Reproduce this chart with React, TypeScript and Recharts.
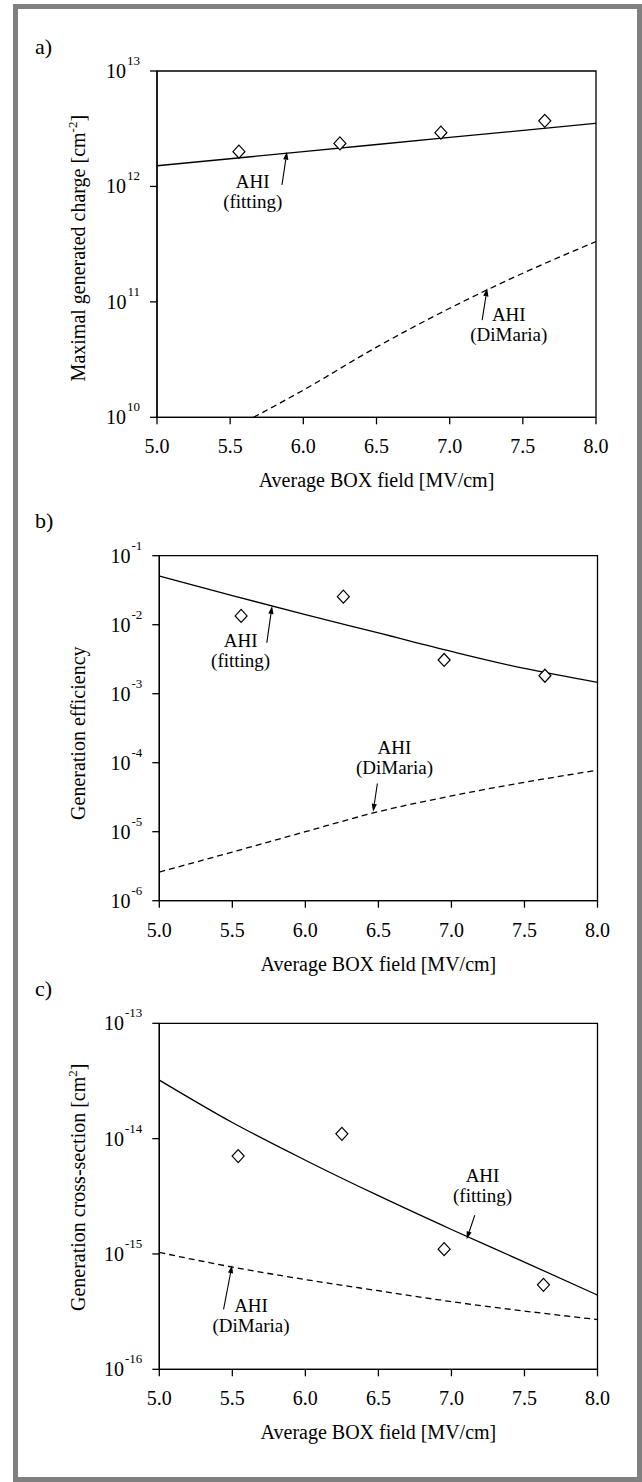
import React from 'react';
import {
  ComposedChart,
  Line,
  Scatter,
  XAxis,
  YAxis,
  ReferenceArea,
  ReferenceDot,
  ReferenceLine,
} from 'recharts';

const SERIF = '"Liberation Serif", "Times New Roman", serif';

// shared x axis (Average BOX field, MV/cm)
const FIELD_TICKS = [5.0, 5.5, 6.0, 6.5, 7.0, 7.5, 8.0];
const FIELD_GRID = [5.0, 5.5, 6.0, 6.5, 7.0, 7.5, 8.0];

// a) maximal generated charge [cm^-2]
const chargeField = [5.56, 6.25, 6.94, 7.65];
const chargeMeasured = [2.0e12, 2.36e12, 2.92e12, 3.7e12];
const chargeFitField = [5.0, 6.0, 7.0, 8.0];
const chargeFit = [1.51e12, 2.0e12, 2.66e12, 3.52e12];
const chargeDiMariaField = [5.66, 6.0, 6.5, 7.0, 7.5, 8.0];
const chargeDiMaria = [1.0e10, 1.72e10, 4.05e10, 8.8e10, 1.77e11, 3.33e11];
const chargeTicks = [1e10, 1e11, 1e12, 1e13];

// b) generation efficiency
const effField = [5.56, 6.26, 6.95, 7.64];
const effMeasured = [1.34e-2, 2.55e-2, 3.08e-3, 1.82e-3];
const effFit = [5.08e-2, 2.64e-2, 1.4e-2, 7.6e-3, 4.1e-3, 2.32e-3, 1.46e-3];
const effDiMaria = [2.6e-6, 5.07e-6, 1.0e-5, 1.95e-5, 3.3e-5, 5.2e-5, 7.8e-5];
const effTicks = [1e-6, 1e-5, 1e-4, 1e-3, 1e-2, 1e-1];

// c) generation cross-section [cm^2]
const crossField = [5.54, 6.25, 6.95, 7.63];
const crossMeasured = [7.06e-15, 1.1e-14, 1.1e-15, 5.4e-16];
const crossFit = [3.22e-14, 1.38e-14, 6.5e-15, 3.2e-15, 1.63e-15, 8.5e-16, 4.4e-16];
const crossDiMaria = [1.03e-15, 7.7e-16, 6.0e-16, 4.8e-16, 3.86e-16, 3.2e-16, 2.7e-16];
const crossTicks = [1e-16, 1e-15, 1e-14, 1e-13];

const zip = (xs: number[], ys: number[]) => xs.map((x, i) => ({ x, y: ys[i] }));

type Note = { x: number; y: number; lines: string[] };
type Arrow = { x1: number; y1: number; x2: number; y2: number };

const FieldTick = (props: any) => {
  const { x, y, payload } = props;
  return (
    <text x={x} y={y + 29} textAnchor="middle" fontFamily={SERIF} fontSize={20} fill="#000">
      {Number(payload.value).toFixed(1)}
    </text>
  );
};

const PowerTick = (props: any) => {
  const { x, y, payload } = props;
  const exp = Math.round(Math.log10(payload.value));
  return (
    <text x={x - 10} y={y + 7} textAnchor="end" fontFamily={SERIF} fontSize={20} fill="#000">
      10
      <tspan dy={-13} dx={1} fontSize={13}>
        {String(exp)}
      </tspan>
    </text>
  );
};

const Diamond = (props: any) => {
  const { cx, cy } = props;
  if (cx == null || cy == null) return null;
  return (
    <polygon
      points={`${cx},${cy - 6.5} ${cx + 6},${cy} ${cx},${cy + 6.5} ${cx - 6},${cy}`}
      fill="#fff"
      stroke="#000"
      strokeWidth={1.2}
    />
  );
};

const ArrowShape = (props: any) => {
  const { x1, y1, x2, y2 } = props;
  const a = Math.atan2(y2 - y1, x2 - x1);
  const len = 8;
  const half = 2.6;
  const bx = x2 - len * Math.cos(a);
  const by = y2 - len * Math.sin(a);
  const p1 = `${bx + half * Math.sin(a)},${by - half * Math.cos(a)}`;
  const p2 = `${bx - half * Math.sin(a)},${by + half * Math.cos(a)}`;
  return (
    <g>
      <line x1={x1} y1={y1} x2={bx} y2={by} stroke="#000" strokeWidth={1.1} />
      <polygon points={`${x2},${y2} ${p1} ${p2}`} fill="#000" />
    </g>
  );
};

interface PanelProps {
  top: number;
  height: number;
  margin: { top: number; right: number; bottom: number; left: number };
  letter: string;
  letterTop: number;
  yDomain: [number, number];
  yTicks: number[];
  yTitle: string;
  yTitleSup?: string;
  yTitleTail?: string;
  yTitleShift: number;
  measured: { x: number; y: number }[];
  fit: { x: number; y: number }[];
  dimaria: { x: number; y: number }[];
  notes: Note[];
  arrows: Arrow[];
}

const Panel: React.FC<PanelProps> = (p) => {
  const axisStroke = { stroke: '#000', strokeWidth: 1.3 };
  return (
    <>
      <div
        style={{
          position: 'absolute',
          left: 35,
          top: p.letterTop,
          fontFamily: SERIF,
          fontSize: 22,
          lineHeight: '22px',
          color: '#000',
        }}
      >
        {p.letter}
      </div>
      <div style={{ position: 'absolute', left: 0, top: p.top, width: 642, height: p.height }}>
        <ComposedChart width={642} height={p.height} margin={p.margin}>
          <XAxis
            type="number"
            dataKey="x"
            domain={[5, 8]}
            ticks={FIELD_TICKS}
            allowDataOverflow
            height={30}
            tickSize={7}
            tickMargin={0}
            axisLine={axisStroke}
            tickLine={axisStroke}
            tick={<FieldTick />}
            label={{
              content: (lp: any) => {
                const vb = lp.viewBox || {};
                return (
                  <text
                    x={vb.x + vb.width / 2}
                    y={vb.y + 70}
                    textAnchor="middle"
                    fontFamily={SERIF}
                    fontSize={20}
                    fill="#000"
                  >
                    Average BOX field [MV/cm]
                  </text>
                );
              },
            }}
          />
          <YAxis
            type="number"
            dataKey="y"
            scale="log"
            domain={p.yDomain}
            ticks={p.yTicks}
            allowDataOverflow
            width={60}
            tickSize={7}
            tickMargin={0}
            axisLine={axisStroke}
            tickLine={axisStroke}
            tick={<PowerTick />}
            label={{
              content: (lp: any) => {
                const vb = lp.viewBox || {};
                const cy = vb.y + vb.height / 2 + p.yTitleShift;
                return (
                  <text
                    x={85}
                    y={cy}
                    transform={`rotate(-90, 85, ${cy})`}
                    textAnchor="middle"
                    fontFamily={SERIF}
                    fontSize={20}
                    fill="#000"
                  >
                    {p.yTitle}
                    {p.yTitleSup ? (
                      <tspan dy={-8} fontSize={13}>
                        {p.yTitleSup}
                      </tspan>
                    ) : null}
                    {p.yTitleTail ? <tspan dy={8}>{p.yTitleTail}</tspan> : null}
                  </text>
                );
              },
            }}
          />
          <ReferenceArea
            x1={5}
            x2={8}
            y1={p.yDomain[0]}
            y2={p.yDomain[1]}
            fill="none"
            fillOpacity={0}
            stroke="#000"
            strokeWidth={1.3}
          />
          <Line
            data={p.fit}
            dataKey="y"
            type="monotone"
            stroke="#000"
            strokeWidth={1.3}
            dot={false}
            activeDot={false}
            isAnimationActive={false}
          />
          <Line
            data={p.dimaria}
            dataKey="y"
            type="monotone"
            stroke="#000"
            strokeWidth={1.3}
            strokeDasharray="6 4"
            dot={false}
            activeDot={false}
            isAnimationActive={false}
          />
          <Scatter data={p.measured} dataKey="y" shape={<Diamond />} isAnimationActive={false} />
          {p.arrows.map((a, i) => (
            <ReferenceLine
              key={`arrow-${i}`}
              segment={[
                { x: a.x1, y: a.y1 },
                { x: a.x2, y: a.y2 },
              ]}
              shape={ArrowShape}
            />
          ))}
          {p.notes.map((n, i) => (
            <ReferenceDot
              key={`note-${i}`}
              x={n.x}
              y={n.y}
              r={0}
              shape={(s: any) => (
                <text
                  x={s.cx}
                  y={s.cy}
                  textAnchor="middle"
                  fontFamily={SERIF}
                  fontSize={19}
                  fill="#000"
                >
                  {n.lines.map((t, j) => (
                    <tspan key={j} x={s.cx} dy={j === 0 ? 0 : 20}>
                      {t}
                    </tspan>
                  ))}
                </text>
              )}
            />
          ))}
        </ComposedChart>
      </div>
    </>
  );
};

export default function App() {
  return (
    <div
      style={{
        position: 'absolute',
        left: 0,
        top: 0,
        width: 642,
        height: 1482,
        background: '#fff',
        overflow: 'hidden',
      }}
    >
      <div
        style={{
          position: 'absolute',
          left: 13,
          top: 4,
          width: 629,
          height: 1478,
          border: '5px solid #808080',
          boxSizing: 'border-box',
        }}
      />
      <Panel
        top={20}
        height={480}
        margin={{ top: 51, right: 46, bottom: 52.7, left: 97 }}
        letter="a)"
        letterTop={36}
        yDomain={[1e10, 1e13]}
        yTicks={chargeTicks}
        yTitle="Maximal generated charge [cm"
        yTitleSup="-2"
        yTitleTail="]"
        yTitleShift={4}
        measured={zip(chargeField, chargeMeasured)}
        fit={zip(chargeFitField, chargeFit)}
        dimaria={zip(chargeDiMariaField, chargeDiMaria)}
        notes={[
          { x: 5.654, y: 9.7e11, lines: ['AHI', '(fitting)'] },
          { x: 7.404, y: 6.86e10, lines: ['AHI', '(DiMaria)'] },
        ]}
        arrows={[
          { x1: 5.854, y1: 1.03e12, x2: 5.888, y2: 2.0e12 },
          { x1: 7.222, y1: 6.95e10, x2: 7.256, y2: 1.31e11 },
        ]}
      />
      <Panel
        top={500}
        height={480}
        margin={{ top: 55.7, right: 44.5, bottom: 49.3, left: 99.3 }}
        letter="b)"
        letterTop={510}
        yDomain={[1e-6, 1e-1]}
        yTicks={effTicks}
        yTitle="Generation efficiency"
        yTitleShift={5}
        measured={zip(effField, effMeasured)}
        fit={zip(FIELD_GRID, effFit)}
        dimaria={zip(FIELD_GRID, effDiMaria)}
        notes={[
          { x: 5.557, y: 4.75e-3, lines: ['AHI', '(fitting)'] },
          { x: 6.61, y: 1.34e-4, lines: ['AHI', '(DiMaria)'] },
        ]}
        arrows={[
          { x1: 5.736, y1: 5.48e-3, x2: 5.772, y2: 1.87e-2 },
          { x1: 6.493, y1: 5.0e-5, x2: 6.464, y2: 1.95e-5 },
        ]}
      />
      <Panel
        top={980}
        height={480}
        margin={{ top: 43.3, right: 44.5, bottom: 60.7, left: 99.3 }}
        letter="c)"
        letterTop={978}
        yDomain={[1e-16, 1e-13]}
        yTicks={crossTicks}
        yTitle="Generation cross-section [cm"
        yTitleSup="2"
        yTitleTail="]"
        yTitleShift={-9}
        measured={zip(crossField, crossMeasured)}
        fit={zip(FIELD_GRID, crossFit)}
        dimaria={zip(FIELD_GRID, crossDiMaria)}
        notes={[
          { x: 7.213, y: 4.23e-15, lines: ['AHI', '(fitting)'] },
          { x: 5.628, y: 3.15e-16, lines: ['AHI', '(DiMaria)'] },
        ]}
        arrows={[
          { x1: 7.16, y1: 2.17e-15, x2: 7.104, y2: 1.34e-15 },
          { x1: 5.44, y1: 3.31e-16, x2: 5.498, y2: 8.0e-16 },
        ]}
      />
    </div>
  );
}
